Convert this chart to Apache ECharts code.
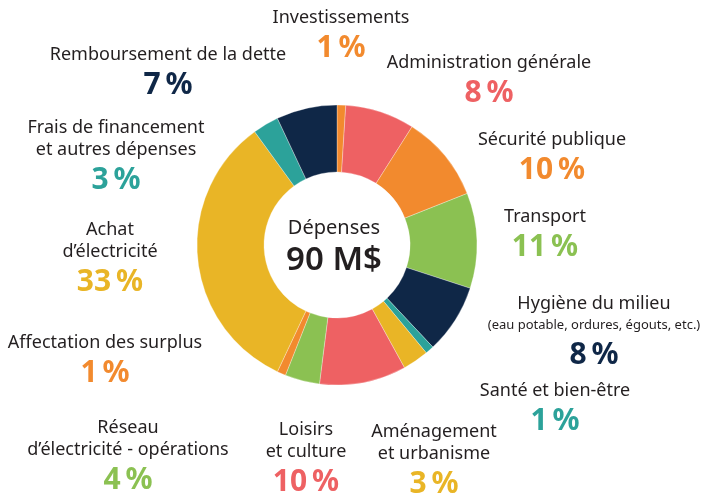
<!DOCTYPE html>
<html>
<head>
<meta charset="utf-8">
<script src="https://cdn.jsdelivr.net/npm/echarts@6/dist/echarts.min.js"></script>
<style>
  html, body { margin: 0; padding: 0; background: #fff; }
  #chart { width: 709px; height: 497px; }
</style>
</head>
<body>
<div id="chart"></div>
<script>
// postes de dépenses, dans le sens horaire depuis midi
var categories = [
  'Investissements',
  'Administration générale',
  'Sécurité publique',
  'Transport',
  'Hygiène du milieu',
  'Santé et bien-être',
  'Aménagement\net urbanisme',
  'Loisirs\net culture',
  'Réseau\nd’électricité - opérations',
  'Affectation des surplus',
  'Achat\nd’électricité',
  'Frais de financement\net autres dépenses',
  'Remboursement de la dette'
];
var values = [1, 8, 10, 11, 8, 1, 3, 10, 4, 1, 33, 3, 7];
var subtitles = ['', '', '', '', '(eau potable, ordures, égouts, etc.)', '', '', '', '', '', '', '', ''];
var colors = ['#F28A2E', '#EE6163', '#F28A2E', '#8BC152', '#0F2747', '#2CA29A', '#E9B526',
              '#EE6163', '#8BC152', '#F28A2E', '#E9B526', '#2CA29A', '#0F2747'];
var centerTitle = 'Dépenses';
var centerValue = '90 M$';

// position des étiquettes (centre x, haut y)
var labelPos = [
  [341, 7], [489, 52], [552, 129], [545, 206], [594, 293], [555, 380], [434, 421],
  [306, 419], [128, 417], [105, 332], [110, 219], [116, 117], [168, 44]
];

var FONT = '"Noto Sans", sans-serif';
var chart = echarts.init(document.getElementById('chart'));

var pieData = [];
var labels = [];
for (var i = 0; i < values.length; i++) {
  pieData.push({ name: categories[i], value: values[i], itemStyle: { color: colors[i] } });

  var txt = categories[i].split('\n').map(function(l) { return '{n|' + l + '}'; }).join('\n');
  if (subtitles[i]) txt += '\n{s|' + subtitles[i] + '}';
  txt += '\n{p|' + values[i] + '\u202f%}';
  labels.push({
    type: 'text',
    x: labelPos[i][0],
    y: labelPos[i][1],
    style: {
      text: txt,
      align: 'center',
      verticalAlign: 'top',
      rich: {
        n: { fontSize: 18, lineHeight: 22, fill: '#231F20', fontFamily: FONT },
        s: { fontSize: 13, lineHeight: 21, fill: '#231F20', fontFamily: FONT },
        p: { fontSize: 30, fontWeight: 'bold', lineHeight: 38, fill: colors[i], fontFamily: FONT }
      }
    }
  });
}

labels.push({
  type: 'text', x: 334, y: 228,
  style: { text: centerTitle, align: 'center', verticalAlign: 'middle', fontSize: 20, fill: '#231F20', fontFamily: FONT }
});
labels.push({
  type: 'text', x: 334, y: 261,
  style: { text: centerValue, align: 'center', verticalAlign: 'middle', fontSize: 33, fontWeight: 600, fill: '#231F20', fontFamily: FONT }
});

var option = {
  backgroundColor: '#fff',
  animation: false,
  series: [{
    type: 'pie',
    center: [337, 245],
    radius: [73, 140],
    startAngle: 90,
    clockwise: true,
    label: { show: false },
    labelLine: { show: false },
    itemStyle: { borderColor: '#fff', borderWidth: 0.3 },
    emphasis: { disabled: true },
    data: pieData
  }],
  graphic: labels
};
chart.setOption(option);
</script>
</body>
</html>
